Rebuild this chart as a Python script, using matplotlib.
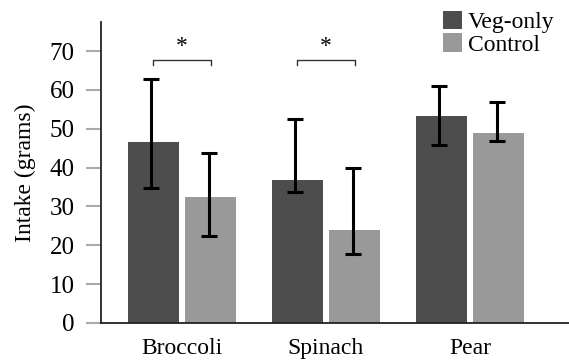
import numpy as np
from matplotlib import pyplot as plt

foods = ['Broccoli', 'Spinach', 'Pear']
veg_mean = [46.7, 36.8, 53.3]
veg_hi = [62.9, 52.5, 60.9]
veg_lo = [34.8, 33.8, 45.9]
ctl_mean = [32.3, 23.9, 48.8]
ctl_hi = [43.8, 40.0, 57.0]
ctl_lo = [22.3, 17.8, 46.8]
sig_pairs = [0, 1]  # groups marked with *

plt.rcParams['font.family'] = ['Liberation Serif', 'DejaVu Serif']

fig = plt.figure(figsize=(5.69, 3.6), dpi=100)
ax = fig.add_axes([0.1775, 0.103, 0.8225, 0.836])

x = np.arange(len(foods))
w = 0.354
off = 0.198
veg_err = [np.array(veg_mean) - np.array(veg_lo), np.array(veg_hi) - np.array(veg_mean)]
ctl_err = [np.array(ctl_mean) - np.array(ctl_lo), np.array(ctl_hi) - np.array(ctl_mean)]

ax.bar(x - off, veg_mean, w, color='#4d4d4d', label='Veg-only', zorder=2)
ax.bar(x + off, ctl_mean, w, color='#999999', label='Control', zorder=2)
ax.errorbar(x - off - 0.015, veg_mean, yerr=veg_err, fmt='none', ecolor='black',
            elinewidth=2.2, capsize=6, capthick=2.2, zorder=3)
ax.errorbar(x + off - 0.01, ctl_mean, yerr=ctl_err, fmt='none', ecolor='black',
            elinewidth=2.2, capsize=6, capthick=2.2, zorder=3)

for i in sig_pairs:
    x0, x1 = x[i] - off, x[i] + off
    ax.plot([x0, x0, x1, x1], [66.3, 67.7, 67.7, 66.3], color='#333333', lw=1.0)
    ax.text(x[i], 68.5, '*', ha='center', va='bottom', fontsize=17)

ax.set_xlim(-0.5625, 2.6875)
ax.set_ylim(0, 77.5)
ax.set_yticks(range(0, 80, 10))
ax.set_xticks(x)
ax.set_xticklabels(foods, fontsize=17)
ax.tick_params(axis='x', length=0, pad=11)
ax.tick_params(axis='y', direction='out', length=10.5, width=1.5, color='#aaaaaa',
               labelsize=18, pad=8.5)
ax.set_ylabel('Intake (grams)', fontsize=17, labelpad=10)
for s in ['top', 'right']:
    ax.spines[s].set_visible(False)
for s in ['left', 'bottom']:
    ax.spines[s].set_linewidth(1.3)
    ax.spines[s].set_color('#222222')

ax.legend(loc='upper right', bbox_to_anchor=(0.989, 1.067), frameon=False, fontsize=17,
          handlelength=0.8, handleheight=0.8, handletextpad=0.25, labelspacing=0.0,
          borderaxespad=0)

fig.savefig('out.png', dpi=100)
